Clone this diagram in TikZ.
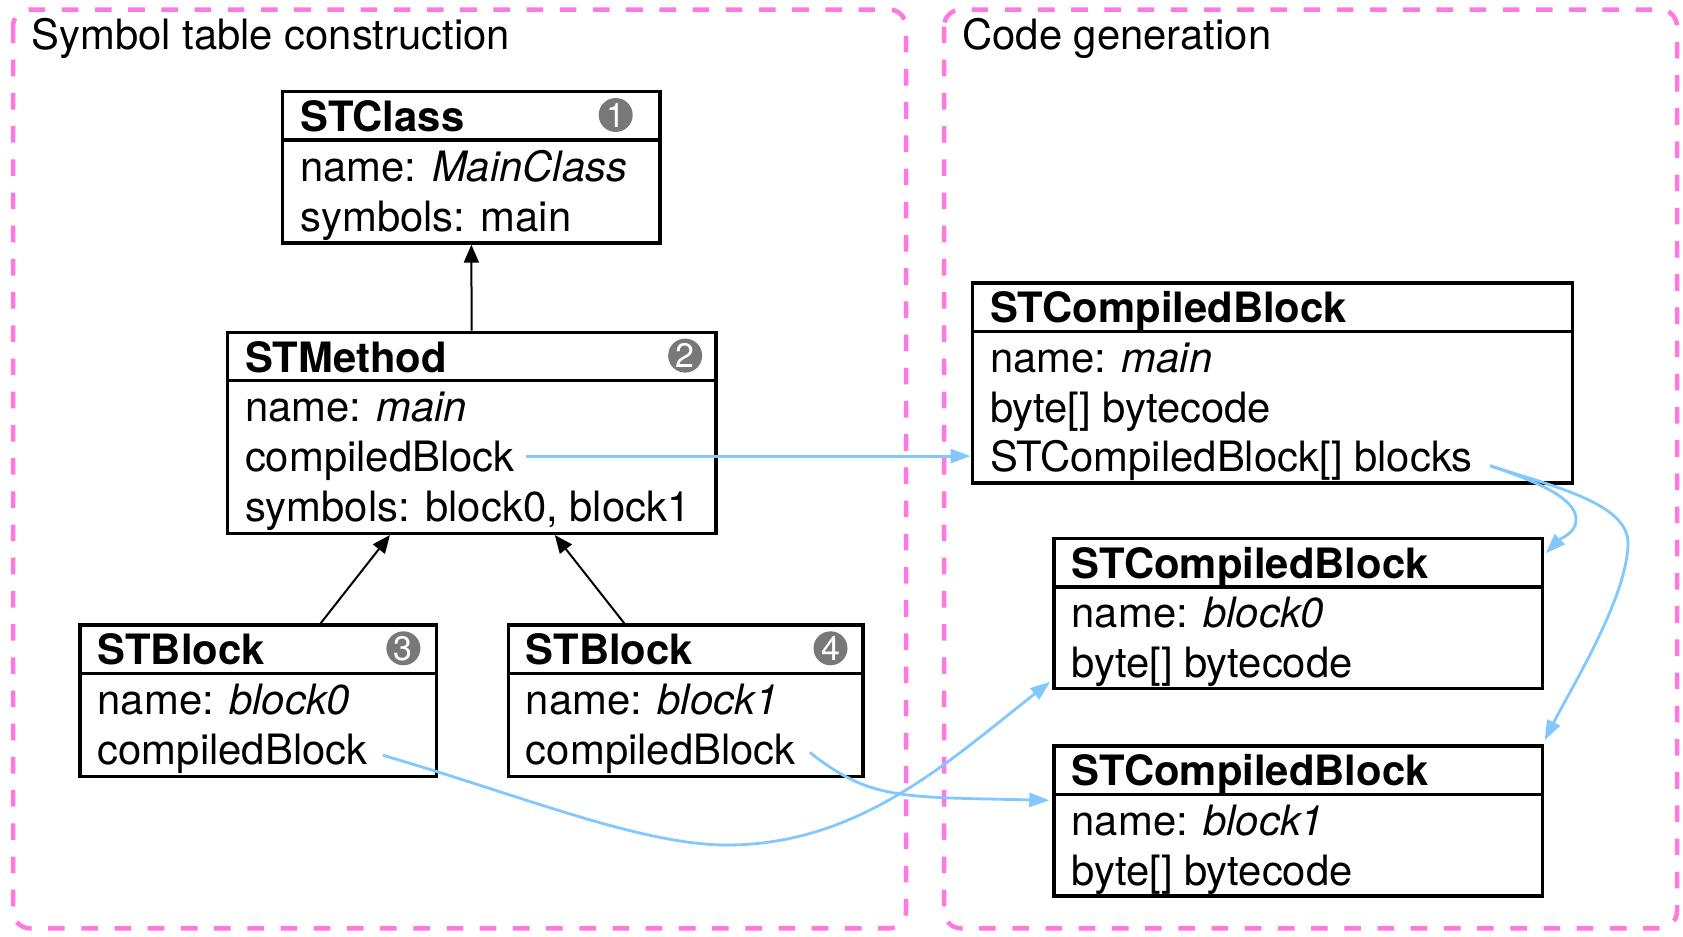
\documentclass[tikz,border=0pt]{standalone}
\usepackage{fontspec}
\setmainfont{TeX Gyre Heros}
\usetikzlibrary{arrows.meta,calc,fit}
\definecolor{refblue}{RGB}{130,200,255}
\definecolor{grouppink}{RGB}{255,119,224}
\definecolor{numgray}{RGB}{120,120,120}
\newcommand\mainsz{\fontsize{20.9pt}{25pt}\selectfont}
\newcommand\numsz{\fontsize{17pt}{18pt}\selectfont}
\begin{document}
\begin{tikzpicture}[x=0.5pt,y=-0.5pt,
  umlbox/.style={draw=black, line width=1.7pt, inner sep=0pt},
  sepline/.style={draw=black, line width=1.7pt},
  lbl/.style={anchor=base west, inner sep=0pt, font=\mainsz},
  num/.style={circle, fill=numgray, text=white, minimum size=17pt, inner sep=0pt, font=\numsz},
  inh/.style={-{Triangle[length=9pt,width=7.5pt]}, line width=1pt, draw=black},
  refarrow/.style={-{Triangle[length=10pt,width=7pt]}, line width=1.4pt, draw=refblue},
  group/.style={draw=grouppink, line width=2.25pt, dash pattern=on 8.3pt off 8.3pt, rounded corners=8.5pt}]
\useasboundingbox (0,0) rectangle (1683,937);

% groups
\draw[group] (13,9.5) rectangle (906,928.3);
\draw[group] (944,9.5) rectangle (1677,928.3);
\node[lbl] (t1) at (31,49) {Symbol table construction};
\node[lbl] (t2) at (962,49) {Code generation};

% STClass
\node[umlbox, fit={(282.7,91.7)(660,243)}] (cls) {};
\draw[sepline] ($(cls.north west)+(0,50)$) -- ($(cls.north east)+(0,50)$);
\node[lbl] (clsh) at ($(cls.north west)+(19,41.5)$) {\bfseries STClass};
\node[lbl] (clsn) at ($(cls.north west)+(19,91)$) {name: \textit{MainClass}};
\node[lbl] (clss) at ($(cls.north west)+(19,141)$) {symbols: main};
\node[num] (n1) at ($(cls.north east)+(-46,25)$) {1};

% STMethod
\node[umlbox, fit={(227.3,332.3)(716,533.3)}] (meth) {};
\draw[sepline] ($(meth.north west)+(0,50)$) -- ($(meth.north east)+(0,50)$);
\node[lbl] (methh) at ($(meth.north west)+(19,41.5)$) {\bfseries STMethod};
\node[lbl] (methn) at ($(meth.north west)+(19,91)$) {name: \textit{main}};
\node[lbl] (mcb) at ($(meth.north west)+(19,141)$) {compiledBlock};
\node[lbl] (meths) at ($(meth.north west)+(19,190.5)$) {symbols: block0, block1};
\node[num] (n2) at ($(meth.north east)+(-32.5,25)$) {2};

% STBlock 0
\node[umlbox, fit={(80,625)(436.7,776.5)}] (b0) {};
\draw[sepline] ($(b0.north west)+(0,50)$) -- ($(b0.north east)+(0,50)$);
\node[lbl] (b0h) at ($(b0.north west)+(19,41.5)$) {\bfseries STBlock};
\node[lbl] (b0n) at ($(b0.north west)+(19,91)$) {name: \textit{block0}};
\node[lbl] (b0cb) at ($(b0.north west)+(19,141)$) {compiledBlock};
\node[num] (n3) at ($(b0.north east)+(-35,25)$) {3};

% STBlock 1
\node[umlbox, fit={(508.2,625)(862.8,776.5)}] (b1) {};
\draw[sepline] ($(b1.north west)+(0,50)$) -- ($(b1.north east)+(0,50)$);
\node[lbl] (b1h) at ($(b1.north west)+(19,41.5)$) {\bfseries STBlock};
\node[lbl] (b1n) at ($(b1.north west)+(19,91)$) {name: \textit{block1}};
\node[lbl] (b1cb) at ($(b1.north west)+(19,141)$) {compiledBlock};
\node[num] (n4) at ($(b1.north east)+(-34,25)$) {4};

% STCompiledBlock main
\node[umlbox, fit={(972.3,283)(1572.5,483)}] (cbm) {};
\draw[sepline] ($(cbm.north west)+(0,50)$) -- ($(cbm.north east)+(0,50)$);
\node[lbl] (cbmh) at ($(cbm.north west)+(19,41.5)$) {\bfseries STCompiledBlock};
\node[lbl] (cbmn) at ($(cbm.north west)+(19,91)$) {name: \textit{main}};
\node[lbl] (cbmb) at ($(cbm.north west)+(19,141)$) {byte[] bytecode};
\node[lbl] (cbmbl) at ($(cbm.north west)+(19,190)$) {STCompiledBlock[] blocks};

% STCompiledBlock block0
\node[umlbox, fit={(1054,538.5)(1542.5,688.5)}] (cb0) {};
\draw[sepline] ($(cb0.north west)+(0,50)$) -- ($(cb0.north east)+(0,50)$);
\node[lbl] (cb0h) at ($(cb0.north west)+(19,41.5)$) {\bfseries STCompiledBlock};
\node[lbl] (cb0n) at ($(cb0.north west)+(19,91)$) {name: \textit{block0}};
\node[lbl] (cb0b) at ($(cb0.north west)+(19,141)$) {byte[] bytecode};

% STCompiledBlock block1
\node[umlbox, fit={(1054,746)(1542.5,896)}] (cb1) {};
\draw[sepline] ($(cb1.north west)+(0,50)$) -- ($(cb1.north east)+(0,50)$);
\node[lbl] (cb1h) at ($(cb1.north west)+(19,41.5)$) {\bfseries STCompiledBlock};
\node[lbl] (cb1n) at ($(cb1.north west)+(19,91)$) {name: \textit{block1}};
\node[lbl] (cb1b) at ($(cb1.north west)+(19,141)$) {byte[] bytecode};

% inheritance-like arrows
\draw[inh] (meth.north) -- (cls.south);
\draw[inh] ($(b0.north west)!0.673!(b0.north east)$) -- ($(meth.south west)!0.334!(meth.south east)$);
\draw[inh] ($(b1.north west)!0.329!(b1.north east)$) -- ($(meth.south west)!0.669!(meth.south east)$);

% reference arrows
\coordinate (s1) at ($(mcb.base east)+(11,-15.5)$);
\draw[refarrow] (s1) -- (s1 -| cbm.west);

\coordinate (s2) at ($(cbmbl.base east)+(17,-5.5)$);
\coordinate (e2) at ($(cb0.north east)+(1.5,16.5)$);
\draw[refarrow] (s2) .. controls (1535,481) and (1577,498) .. (1576,520)
  .. controls (1576,533) and (1561,538) .. (e2);
\coordinate (e3) at ($(cb1.north east)+(0.5,-4)$);
\draw[refarrow] (s2) .. controls (1560,488) and (1630,505) .. (1628,545)
  .. controls (1626,600) and (1570,690) .. (e3);

\coordinate (s4) at ($(b0cb.base east)+(15,-9)$);
\coordinate (e4) at ($(cb0.south west)+(-2,-8.5)$);
\draw[refarrow] (s4) .. controls (520,795) and (640,845) .. (727,845)
  .. controls (860,845) and (950,760) .. (e4);

\coordinate (s5) at ($(b1cb.base east)+(13.6,-12)$);
\coordinate (e5) at ($(cb1.north west)+(-3,56)$);
\draw[refarrow] (s5) .. controls (870,800) and (900,797) .. (e5);
\end{tikzpicture}
\end{document}
